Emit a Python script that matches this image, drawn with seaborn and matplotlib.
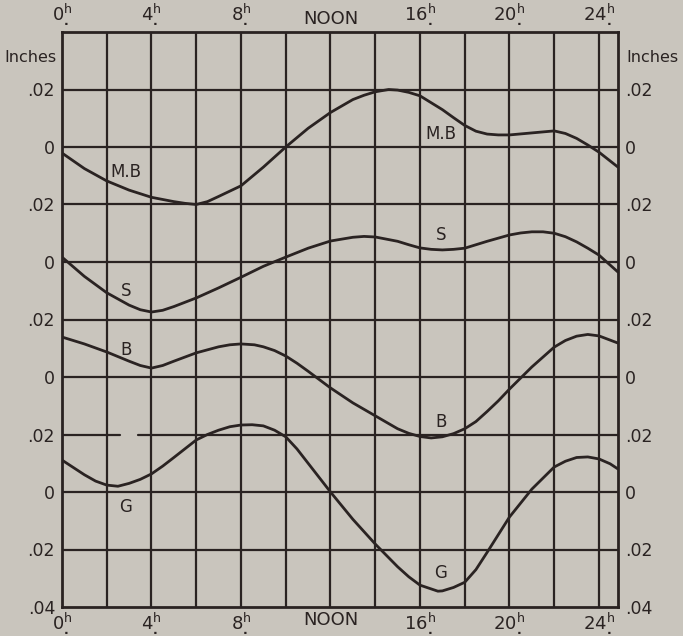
import matplotlib
matplotlib.use("Agg")
import matplotlib.pyplot as plt
import seaborn as sns
import pandas as pd

# ---- data (values in inches, each curve relative to its own zero line) ----
hours_mb = [0, 1, 2, 3, 4, 5, 5.5, 6, 6.5, 7, 8, 9, 10, 11, 12, 13, 13.5, 14, 14.6, 15, 15.5, 16, 17, 17.5,
            18, 18.5, 19, 19.5, 20, 21, 22, 22.5, 23, 23.5, 24, 24.85]
mb_vals = [-0.0021, -0.0075, -0.0118, -0.0150, -0.0175, -0.0190, -0.0196, -0.0200, -0.0190, -0.0172, -0.0135,
           -0.0070, 0.0000, 0.0065, 0.0120, 0.0165, 0.0180, 0.0192, 0.0200, 0.0198, 0.0190, 0.0178, 0.0130,
           0.0102, 0.0075, 0.0055, 0.0045, 0.0042, 0.0042, 0.0049, 0.0056, 0.0047, 0.0030, 0.0007, -0.0018,
           -0.0070]

hours_s = [0, 1, 2, 3, 3.5, 4, 4.5, 5, 6, 7, 8, 9, 10, 11, 12, 13, 13.5, 14, 15, 15.5, 16, 16.5, 17, 17.5,
           18, 19, 20, 20.5, 21, 21.5, 22, 22.5, 23, 23.5, 24, 24.85]
s_vals = [0.0017, -0.0050, -0.0107, -0.0150, -0.0166, -0.0174, -0.0168, -0.0155, -0.0125, -0.0090, -0.0053,
          -0.0015, 0.0017, 0.0048, 0.0073, 0.0086, 0.0089, 0.0087, 0.0072, 0.0060, 0.0049, 0.0044, 0.0042,
          0.0044, 0.0048, 0.0072, 0.0094, 0.0101, 0.0105, 0.0105, 0.0100, 0.0088, 0.0070, 0.0048, 0.0024,
          -0.0035]

hours_b = [0, 1, 2, 3, 3.5, 4, 4.5, 5, 6, 7, 7.5, 8, 8.6, 9, 9.5, 10, 10.5, 11, 12, 13, 14, 15, 15.5, 16,
           16.5, 17, 17.5, 18, 18.5, 19, 19.5, 20, 21, 22, 22.5, 23, 23.5, 24, 24.85]
b_vals = [0.0139, 0.0115, 0.0087, 0.0055, 0.0040, 0.0031, 0.0040, 0.0055, 0.0084, 0.0105, 0.0112, 0.0115,
          0.0112, 0.0105, 0.0092, 0.0073, 0.0048, 0.0020, -0.0038, -0.0090, -0.0135, -0.0180, -0.0196,
          -0.0207, -0.0212, -0.0208, -0.0197, -0.0180, -0.0155, -0.0120, -0.0083, -0.0042, 0.0035, 0.0104,
          0.0127, 0.0142, 0.0148, 0.0143, 0.0118]

hours_g = [0, 1, 1.5, 2, 2.5, 3, 3.5, 4, 4.5, 5, 6, 6.5, 7, 7.5, 8, 8.5, 9, 9.5, 10, 10.5, 11, 12, 13, 14,
           15, 15.5, 16, 16.8, 17, 17.5, 18, 18.5, 19, 20, 21, 22, 22.5, 23, 23.5, 24, 24.5, 24.85]
g_vals = [0.0111, 0.0060, 0.0038, 0.0024, 0.0020, 0.0030, 0.0044, 0.0063, 0.0090, 0.0120, 0.0181, 0.0200,
          0.0215, 0.0227, 0.0233, 0.0234, 0.0230, 0.0215, 0.0192, 0.0150, 0.0100, 0.0000, -0.0095, -0.0181,
          -0.0260, -0.0295, -0.0324, -0.0345, -0.0344, -0.0332, -0.0314, -0.0270, -0.0210, -0.0087, 0.0010,
          0.0087, 0.0107, 0.0120, 0.0122, 0.0115, 0.0098, 0.0080]

curve_names = ["M.B", "S", "B", "G"]
zero_levels = [0.16, 0.12, 0.08, 0.04]

x_tick_hours = [0, 4, 8, 12, 16, 20, 24]
x_tick_labels = [r"$\mathrm{0}^{\mathrm{h}}_{\mathbf{.}}$", r"$\mathrm{4}^{\mathrm{h}}_{\mathbf{.}}$",
                 r"$\mathrm{8}^{\mathrm{h}}_{\mathbf{.}}$", "NOON",
                 r"$\mathrm{16}^{\mathrm{h}}_{\mathbf{.}}$", r"$\mathrm{20}^{\mathrm{h}}_{\mathbf{.}}$",
                 r"$\mathrm{24}^{\mathrm{h}}_{\mathbf{.}}$"]
y_tick_pos = [0.00, 0.02, 0.04, 0.06, 0.08, 0.10, 0.12, 0.14, 0.16, 0.18]
y_tick_labels = [".04", ".02", "0", ".02", "0", ".02", "0", ".02", "0", ".02"]

# ---- build long table ----
rows = []
for name, hrs, vals, z in zip(curve_names, [hours_mb, hours_s, hours_b, hours_g],
                              [mb_vals, s_vals, b_vals, g_vals], zero_levels):
    for h, v in zip(hrs, vals):
        rows.append({"curve": name, "hour": h, "y": z + v})
df = pd.DataFrame(rows)

sns.set_style("white")
plt.rcParams["font.family"] = ["DejaVu Sans"]
plt.rcParams["mathtext.fontset"] = "dejavusans"

bg = "#c9c5bd"
ink = "#2a2322"

fig = plt.figure(figsize=(6.83, 6.36), dpi=100, facecolor=bg)
ax = fig.add_axes([62 / 683, 29 / 636, 556 / 683, 575 / 636])
ax.set_facecolor(bg)

# grid
for xh in range(2, 24 + 1, 2):
    ax.axvline(xh, color=ink, lw=1.6, zorder=1)
for yv in [0.02, 0.04, 0.08, 0.10, 0.12, 0.14, 0.16, 0.18]:
    ax.axhline(yv, color=ink, lw=1.6, zorder=1)
# the .02 line of G has a small break in the reference
ax.plot([0, 2.6], [0.06, 0.06], color=ink, lw=1.6, zorder=1)
ax.plot([3.4, 24.85], [0.06, 0.06], color=ink, lw=1.6, zorder=1)

sns.lineplot(data=df, x="hour", y="y", units="curve", estimator=None, color=ink,
             lw=2.0, ax=ax, sort=False, zorder=3, solid_joinstyle="round", solid_capstyle="round")

# curve labels
lab_fs = 12
ax.text(2.86, 0.1512, "M.B", ha="center", va="center", fontsize=lab_fs, color=ink)
ax.text(16.94, 0.1645, "M.B", ha="center", va="center", fontsize=lab_fs, color=ink)
ax.text(2.86, 0.1098, "S", ha="center", va="center", fontsize=lab_fs, color=ink)
ax.text(16.94, 0.1293, "S", ha="center", va="center", fontsize=lab_fs, color=ink)
ax.text(2.86, 0.0895, "B", ha="center", va="center", fontsize=lab_fs, color=ink)
ax.text(16.94, 0.0645, "B", ha="center", va="center", fontsize=lab_fs, color=ink)
ax.text(2.86, 0.0348, "G", ha="center", va="center", fontsize=lab_fs, color=ink)
ax.text(16.94, 0.0118, "G", ha="center", va="center", fontsize=lab_fs, color=ink)

ax.set_xlim(0, 24.85)
ax.set_ylim(0, 0.20)
ax.set_xticks(x_tick_hours)
ax.set_xticklabels(x_tick_labels, fontsize=13, color=ink)
ax.set_yticks(y_tick_pos)
ax.set_yticklabels(y_tick_labels, fontsize=12.5, color=ink)
ax.tick_params(axis="x", length=0, pad=3, labeltop=True, labelbottom=True)
ax.tick_params(axis="y", length=0, pad=5, labelleft=True, labelright=True)
ax.set_xlabel("")
ax.set_ylabel("")

for sp in ax.spines.values():
    sp.set_visible(True)
    sp.set_color(ink)
    sp.set_linewidth(2.0)

fig.text(30 / 683, 1 - 58 / 636, "Inches", ha="center", va="center", fontsize=11.5, color=ink)
fig.text(652 / 683, 1 - 58 / 636, "Inches", ha="center", va="center", fontsize=11.5, color=ink)

fig.savefig("out.png", dpi=100, facecolor=bg)
